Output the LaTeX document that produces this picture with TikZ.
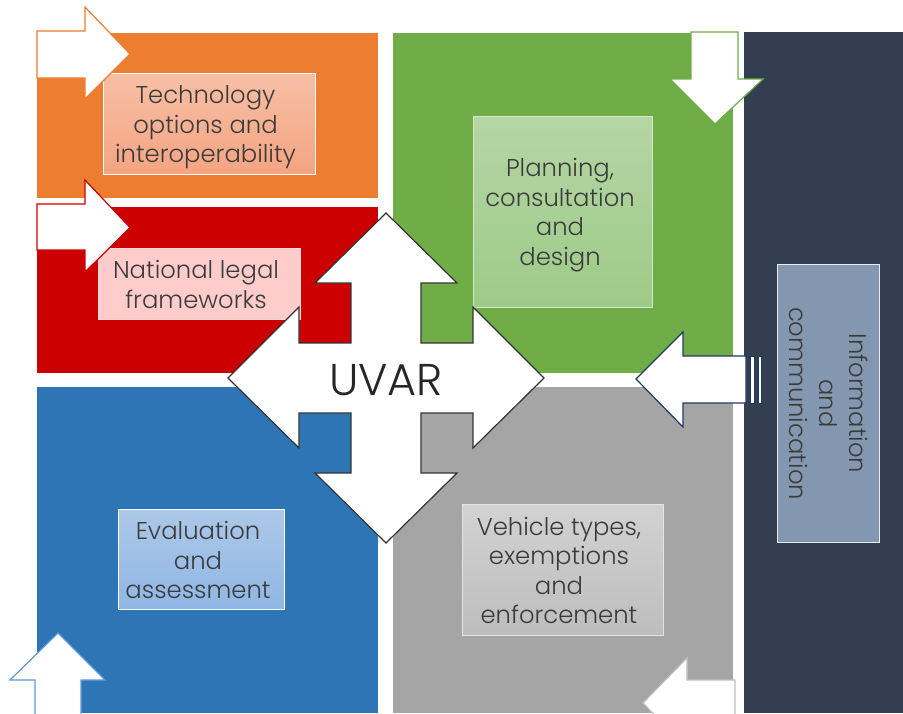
\documentclass[tikz,border=0pt]{standalone}
\usepackage{fontspec}
\setmainfont{Poppins}[UprightFont=* Light]
\definecolor{inkc}{HTML}{3B3B3B}
\definecolor{corange}{HTML}{ED7D31}
\definecolor{cred}{HTML}{CC0000}
\definecolor{cgreen}{HTML}{70AD47}
\definecolor{cblue}{HTML}{2E75B6}
\definecolor{cgray}{HTML}{A5A5A5}
\definecolor{cnavy}{HTML}{333F50}
\definecolor{carrow}{HTML}{203864}
\definecolor{techtop}{HTML}{F7BFA5}
\definecolor{techbot}{HTML}{F4A482}
\definecolor{legalfill}{HTML}{FFCCCC}
\definecolor{legaledge}{HTML}{FFDADA}
\definecolor{plantop}{HTML}{B5D5A5}
\definecolor{planbot}{HTML}{9DCB88}
\definecolor{planedge}{HTML}{D5E6CA}
\definecolor{evaltop}{HTML}{ACC8E8}
\definecolor{evalbot}{HTML}{8FB6E4}
\definecolor{vehtop}{HTML}{D2D2D2}
\definecolor{vehbot}{HTML}{BDBDBD}
\definecolor{vehedge}{HTML}{E4E4E4}
\definecolor{infofill}{HTML}{8497B0}
\definecolor{infoedge}{HTML}{E8ECF2}
\definecolor{blueedge}{HTML}{5B9BD5}
\tikzset{
  panel/.style={inner sep=0pt,outer sep=0pt,anchor=north west,draw=none},
  label box/.style={draw=white,line width=1pt,inner sep=0pt,outer sep=0pt,anchor=north west},
  label text/.style={align=center,text=inkc,inner sep=0pt,font=\fontsize{24.3}{29.6}\selectfont},
  white arrow/.style={fill=white,line width=1.2pt,line join=miter},
}
\begin{document}
\begin{tikzpicture}[x=1pt,y=-1pt]
\useasboundingbox (0,0) rectangle (903,713);
\clip (0,0) rectangle (903,713);
\fill[white] (0,0) rectangle (903,713);
% panels
\node[panel,fill=corange,minimum width=341pt,minimum height=165pt] (orange) at (37,33) {};
\node[panel,fill=cred,minimum width=341pt,minimum height=166pt] (red) at (37,207) {};
\node[panel,fill=cgreen,minimum width=340pt,minimum height=340pt] (green) at (393,33) {};
\node[panel,fill=cblue,minimum width=341pt,minimum height=326pt] (blue) at (37,387) {};
\node[panel,fill=cgray,minimum width=340pt,minimum height=326pt] (gray) at (393,387) {};
\node[panel,fill=cnavy,minimum width=159pt,minimum height=681pt] (navy) at (744,32) {};
% label boxes
\node[label box,top color=techtop,bottom color=techbot,minimum width=212pt,minimum height=101pt] (tech) at (103.5,73.5) {};
\node[label text] (techt) at ([shift={(-4,3.5)}]tech.center) {Technology\\options and\\interoperability};
\node[label box,draw=legaledge,fill=legalfill,minimum width=202pt,minimum height=71pt] (legal) at (98.5,248.5) {};
\node[label text] (legalt) at ([shift={(-3.5,0.5)}]legal.center) {National legal\\frameworks};
\node[label box,draw=planedge,top color=plantop,bottom color=planbot,minimum width=179pt,minimum height=191pt] (plan) at (473.5,116.5) {};
\node[label text] (plant) at ([shift={(-3,3)}]plan.center) {Planning,\\consultation\\and\\design};
\node[label box,top color=evaltop,bottom color=evalbot,minimum width=166pt,minimum height=100pt] (eval) at (118.5,509.5) {};
\node[label text] (evalt) at ([shift={(-3.5,0.5)}]eval.center) {Evaluation\\and\\assessment};
\node[label box,draw=vehedge,top color=vehtop,bottom color=vehbot,minimum width=201pt,minimum height=131pt] (veh) at (462.5,504.5) {};
\node[label text] (veht) at ([shift={(-4,0.5)}]veh.center) {Vehicle types,\\exemptions\\and\\enforcement};
\node[label box,draw=infoedge,fill=infofill,minimum width=102pt,minimum height=278pt] (info) at (777.5,264.5) {};
\node[label text,rotate=-90] (infot) at (info.center) {Information\\and\\communication};
% small arrows
\draw[white arrow,draw=corange] (37,31) -- (85,31) -- (85,7) -- (130,54) -- (85,99) -- (85,78) -- (37,78) -- cycle;
\draw[white arrow,draw=cred] (37,204) -- (85,204) -- (85,180) -- (130,227.5) -- (85,272) -- (85,250) -- (37,250) -- cycle;
\draw[white arrow,draw=cgreen] (691,32) -- (738,32) -- (738,79) -- (763,79) -- (715,124) -- (670,79) -- (691,79) -- cycle;
\draw[white arrow,draw=cgray!70] (735,680) -- (687,680) -- (687,658) -- (643,703) -- (687,748) -- (687,727) -- (735,727) -- cycle;
\draw[white arrow,draw=blueedge] (58,633) -- (105,680) -- (81,680) -- (81,730) -- (35,730) -- (35,680) -- (10,680) -- cycle;
% double-striped arrow
\draw[white arrow,draw=carrow] (636,379) -- (683,332) -- (683,356) -- (746,356) -- (746,403) -- (683,403) -- (683,427) -- cycle;
\draw[white arrow,draw=carrow,line width=.8pt] (750,356) rectangle (754,403);
\draw[white arrow,draw=carrow,line width=.8pt] (758,356) rectangle (761,403);
% central cross
\draw[fill=white,draw=black!80,line width=1.2pt,line join=miter]
 (386,213) -- (457,283) -- (421,283) -- (421,343) -- (473,343) -- (473,307) -- (544,378)
 -- (473,448) -- (473,413) -- (421,413) -- (421,473) -- (457,473) -- (386,543) -- (315,473)
 -- (351,473) -- (351,413) -- (299,413) -- (299,448) -- (228,378) -- (299,307) -- (299,343)
 -- (351,343) -- (351,283) -- (315,283) -- cycle;
\node[text=black!85,font=\fontsize{44.5}{46}\selectfont,inner sep=0pt] (uvar) at (386,380) {UVAR};
\end{tikzpicture}
\end{document}
